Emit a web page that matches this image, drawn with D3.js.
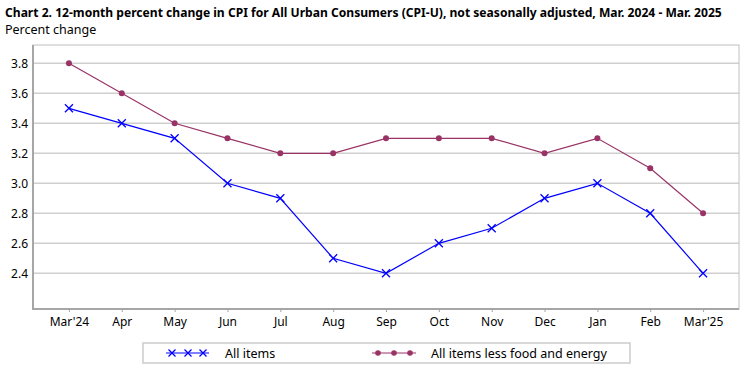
<!DOCTYPE html>
<html>
<head>
<meta charset="utf-8">
<script src="https://cdn.jsdelivr.net/npm/d3@7"></script>
<style>
  body { margin: 0; background: #fff; }
  svg { display: block; font-family: "Noto Sans", "DejaVu Sans", sans-serif; }
</style>
</head>
<body>
<script>
const months = ["Mar'24", "Apr", "May", "Jun", "Jul", "Aug", "Sep", "Oct", "Nov", "Dec", "Jan", "Feb", "Mar'25"];
const allItems = [3.5, 3.4, 3.3, 3.0, 2.9, 2.5, 2.4, 2.6, 2.7, 2.9, 3.0, 2.8, 2.4];
const coreItems = [3.8, 3.6, 3.4, 3.3, 3.2, 3.2, 3.3, 3.3, 3.3, 3.2, 3.3, 3.1, 2.8];
const yTicks = [2.4, 2.6, 2.8, 3.0, 3.2, 3.4, 3.6, 3.8];
const seriesNames = ["All items", "All items less food and energy"];

const W = 749, H = 371;
const plotL = 33, plotR = 739, plotT = 45, plotB = 309;
const blue = "#0000ff", purple = "#993366";

const svg = d3.select("body").append("svg")
    .attr("width", W)
    .attr("height", H);

// title
svg.append("text")
    .attr("x", 5).attr("y", 17)
    .style("font-weight", "bold")
    .style("font-size", "12.1px")
    .text("Chart 2. 12-month percent change in CPI for All Urban Consumers (CPI-U), not seasonally adjusted, Mar. 2024 - Mar. 2025");

svg.append("text")
    .attr("x", 5).attr("y", 34)
    .style("font-size", "12.5px")
    .text("Percent change");

const x = d3.scalePoint()
    .domain(months)
    .range([plotL, plotR])
    .padding(0.68);

const y = d3.scaleLinear()
    .domain([2.162, 3.922])
    .range([plotB, plotT]);

// grid
svg.append("g")
    .selectAll("line")
    .data(yTicks)
    .enter()
    .append("line")
    .attr("x1", plotL).attr("x2", plotR)
    .attr("y1", d => y(d)).attr("y2", d => y(d))
    .attr("stroke", "#cfcfcf")
    .attr("stroke-width", 1.5);

// frame
svg.append("rect")
    .attr("x", plotL).attr("y", plotT)
    .attr("width", plotR - plotL).attr("height", plotB - plotT)
    .attr("fill", "none")
    .attr("stroke", "#c0c0c0")
    .attr("stroke-width", 1);

svg.append("path")
    .attr("d", `M${plotL},${plotT}V${plotB}H${plotR}`)
    .attr("fill", "none")
    .attr("stroke", "#a6a6a6")
    .attr("stroke-width", 2);

// y axis labels
const yAxis = svg.append("g")
    .attr("transform", `translate(${plotL},0)`)
    .call(d3.axisLeft(y).tickValues(yTicks).tickFormat(d3.format(".1f")).tickSize(0).tickPadding(5));
yAxis.select(".domain").remove();
yAxis.selectAll("text")
    .style("font-size", "12px")
    .style("font-family", "\"Noto Sans\", sans-serif")
    .attr("fill", "#000");

// x axis
const xAxis = svg.append("g")
    .attr("transform", `translate(0,${plotB})`)
    .call(d3.axisBottom(x).tickSize(3).tickPadding(5));
xAxis.select(".domain").remove();
xAxis.selectAll("line").attr("stroke", "#a6a6a6");
xAxis.selectAll("text")
    .style("font-size", "12px")
    .style("font-family", "\"Noto Sans\", sans-serif")
    .attr("fill", "#000");

// lines
const line = d3.line()
    .x((d, i) => x(months[i]))
    .y(d => y(d));

svg.append("path")
    .datum(coreItems)
    .attr("d", line)
    .attr("fill", "none")
    .attr("stroke", purple)
    .attr("stroke-width", 1.2);

svg.append("path")
    .datum(allItems)
    .attr("d", line)
    .attr("fill", "none")
    .attr("stroke", blue)
    .attr("stroke-width", 1.2);

function cross(sel, cx, cy) {
    const s = 4;
    sel.append("path")
        .attr("d", `M${cx - s},${cy - s}L${cx + s},${cy + s}M${cx - s},${cy + s}L${cx + s},${cy - s}`)
        .attr("stroke", blue)
        .attr("stroke-width", 1.3)
        .attr("fill", "none");
}

const marks = svg.append("g");
coreItems.forEach((v, i) => {
    marks.append("circle")
        .attr("cx", x(months[i])).attr("cy", y(v))
        .attr("r", 3)
        .attr("fill", purple);
});
allItems.forEach((v, i) => cross(marks, x(months[i]), y(v)));

// legend
const lg = svg.append("g");
lg.append("rect")
    .attr("x", 143).attr("y", 343)
    .attr("width", 487).attr("height", 20)
    .attr("fill", "#fff")
    .attr("stroke", "#cccccc")
    .attr("stroke-width", 1.5);

lg.append("line")
    .attr("x1", 166).attr("x2", 209)
    .attr("y1", 353).attr("y2", 353)
    .attr("stroke", blue).attr("stroke-width", 1.2);
[172, 188, 203].forEach(cx => {
    const s = 3.5;
    lg.append("path")
        .attr("d", `M${cx - s},${353 - s}L${cx + s},${353 + s}M${cx - s},${353 + s}L${cx + s},${353 - s}`)
        .attr("stroke", blue).attr("stroke-width", 1.3);
});
lg.append("text")
    .attr("x", 225).attr("y", 357.5)
    .style("font-size", "12.5px")
    .text(seriesNames[0]);

lg.append("line")
    .attr("x1", 372).attr("x2", 416)
    .attr("y1", 353).attr("y2", 353)
    .attr("stroke", purple).attr("stroke-width", 1.2);
[378, 394, 410].forEach(cx => {
    lg.append("circle")
        .attr("cx", cx).attr("cy", 353)
        .attr("r", 2.8)
        .attr("fill", purple);
});
lg.append("text")
    .attr("x", 431).attr("y", 357.5)
    .style("font-size", "12.5px")
    .text(seriesNames[1]);
</script>
</body>
</html>
